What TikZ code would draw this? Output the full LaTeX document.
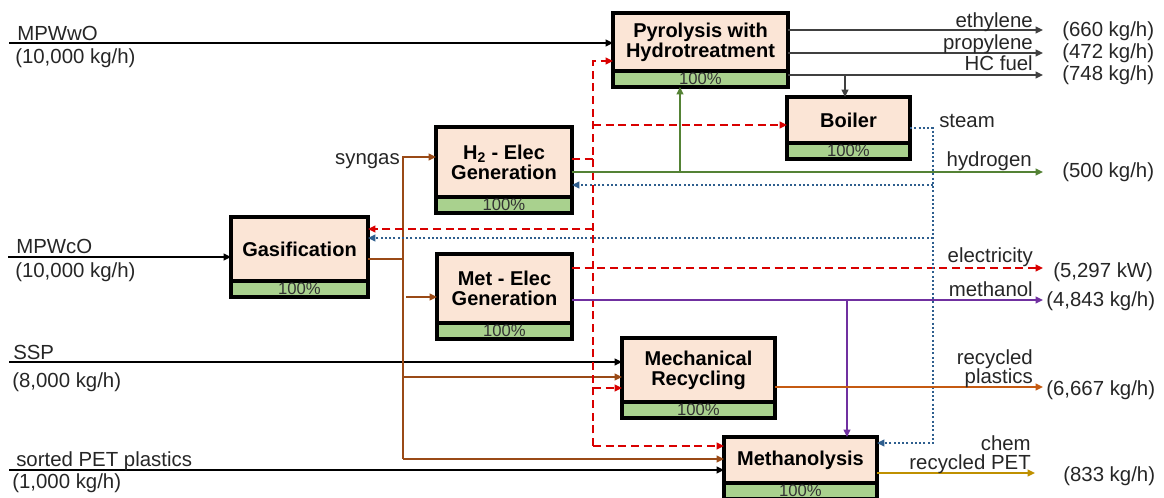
\documentclass[tikz,border=0pt]{standalone}
\usepackage{fontspec}
\setmainfont{Liberation Sans}
\usetikzlibrary{positioning, arrows.meta, calc}

\definecolor{procfill}{HTML}{FBE5D6}
\definecolor{bandfill}{HTML}{A9D18E}
\definecolor{syngascol}{HTML}{9A4A16}
\definecolor{eleccol}{HTML}{D90000}
\definecolor{hydrocol}{HTML}{548235}
\definecolor{steamcol}{HTML}{2E5E8E}
\definecolor{methcol}{HTML}{7030A0}
\definecolor{plastcol}{HTML}{C55A11}
\definecolor{petcol}{HTML}{BF9000}
\definecolor{prodcol}{HTML}{404040}
\definecolor{labelcol}{HTML}{262626}

\begin{document}
\begin{tikzpicture}[
    x=0.75pt, y=-0.75pt,
    >={Triangle[length=5.5pt,width=5pt]},
    every node/.style={font=\fontsize{15.3}{14.5}\selectfont, text=labelcol, inner sep=0pt},
    proc/.style={
        draw, line width=2.4pt, fill=procfill, outer sep=0pt,
        align=center, text=black, font=\fontsize{15}{15}\selectfont\bfseries
    },
    band/.style={
        draw, line width=2.4pt, fill=bandfill, outer sep=0pt,
        minimum height=12pt, text=black!80, font=\fontsize{12.5}{12}\selectfont
    },
    feed/.style={->, line width=1.6pt, black},
    product/.style={->, line width=1.6pt, prodcol},
    syngas/.style={line width=1.6pt, syngascol},
    elec/.style={line width=1.6pt, eleccol, dash pattern=on 6pt off 3.5pt},
    steamline/.style={line width=1.7pt, steamcol, dash pattern=on 1.5pt off 1.7pt},
    hydro/.style={line width=1.6pt, hydrocol},
    methline/.style={line width=1.6pt, methcol},
    plastline/.style={->, line width=1.6pt, plastcol},
    petline/.style={->, line width=1.6pt, petcol},
]
\useasboundingbox (0,0) rectangle (1164,498);

% =====================================================================
%  PROCESS UNITS
% =====================================================================
\node[proc, minimum width=131.25pt, minimum height=43.5pt] (pyro) at (700.5,42)
    {Pyrolysis with\\Hydrotreatment};
\node[band, minimum width=131.25pt, below=0pt of pyro] (pyrob) {100\%};

\node[proc, minimum width=92.25pt, minimum height=34.5pt] (boiler) at (848.5,120)
    {Boiler};
\node[band, minimum width=92.25pt, below=0pt of boiler] (boilerb) {100\%};

\node[proc, minimum width=102pt, minimum height=52.5pt] (htwo) at (504,162)
    {H\textsubscript{2} - Elec\\Generation};
\node[band, minimum width=102pt, below=0pt of htwo] (htwob) {100\%};

\node[proc, minimum width=102.75pt, minimum height=48pt] (gas) at (299.5,249)
    {Gasification};
\node[band, minimum width=102.75pt, below=0pt of gas] (gasb) {100\%};

\node[proc, minimum width=101.25pt, minimum height=51.75pt] (met) at (504.5,288.5)
    {Met - Elec\\Generation};
\node[band, minimum width=101.25pt, below=0pt of met] (metb) {100\%};

\node[proc, minimum width=114.75pt, minimum height=48pt] (mech) at (698.5,370)
    {Mechanical\\Recycling};
\node[band, minimum width=114.75pt, below=0pt of mech] (mechb) {100\%};

\node[proc, minimum width=114.75pt, minimum height=34.5pt] (mol) at (800.5,460)
    {Methanolysis};
\node[band, minimum width=114.75pt, below=0pt of mol] (molb) {100\%};

% =====================================================================
%  FEEDS
% =====================================================================
\coordinate (mpwwo) at (9,43);
\draw[feed] (mpwwo) -- (pyro.west |- mpwwo);
\node[anchor=base west] (mpwwolab) at (17,41) {MPWwO};
\node[anchor=base west] (mpwworate) at (15,64) {(10,000 kg/h)};

\coordinate (mpwco) at (8,257);
\draw[feed] (mpwco) -- (gas.west |- mpwco);
\node[anchor=base west] (mpwcolab) at (16,254) {MPWcO};
\node[anchor=base west] (mpwcorate) at (15,278) {(10,000 kg/h)};

\coordinate (ssp) at (9,362);
\draw[feed] (ssp) -- (mech.west |- ssp);
\node[anchor=base west] (ssplab) at (13,360) {SSP};
\node[anchor=base west] (ssprate) at (12,388) {(8,000 kg/h)};

\coordinate (pet) at (9,470);
\draw[feed] (pet) -- (mol.west |- pet);
\node[anchor=base west] (petlab) at (16,467) {sorted PET plastics};
\node[anchor=base west] (petrate) at (12,489) {(1,000 kg/h)};

% =====================================================================
%  SYNGAS
% =====================================================================
\coordinate (sgjoin) at (403,259);
\coordinate (sgtop) at (403,157);
\coordinate (sgbot) at (403,459);
\coordinate (sgmet) at (406,297);
\coordinate (sgmech) at (403,377);
\draw[syngas] (gas.east |- sgjoin) -- (sgjoin);
\draw[syngas, ->] (sgbot) -- (sgtop) -- (htwo.west |- sgtop);
\draw[syngas, ->] (sgbot) -- (mol.west |- sgbot);
\draw[syngas, ->] (sgmet) -- (met.west |- sgmet);
\draw[syngas, ->] (sgmech) -- (mech.west |- sgmech);
\node[anchor=base east] (sglab) at (400,165) {syngas};

% =====================================================================
%  ELECTRICITY
% =====================================================================
\coordinate (ehtwo) at (593,159);
\coordinate (etop) at (593,61);
\coordinate (ebot) at (593,446);
\coordinate (eboiler) at (593,125);
\coordinate (egas) at (593,229);
\coordinate (emech) at (593,388);
\coordinate (elecend) at (1043,268);
\draw[elec] (htwo.east |- ehtwo) -- (ehtwo);
\draw[elec, ->] (ebot) -- (etop) -- (pyro.west |- etop);
\draw[elec, ->] (ebot) -- (mol.west |- ebot);
\draw[elec, ->] (eboiler) -- (boiler.west |- eboiler);
\draw[elec, ->] (egas) -- (gas.east |- egas);
\draw[elec, ->] (emech) -- (mech.west |- emech);
\draw[elec, ->] (met.east |- elecend) -- (elecend);
\node[anchor=base east] (eleclab) at (1033,263) {electricity};
\node[anchor=base west] (elecrate) at (1053,278) {(5,297 kW)};

% =====================================================================
%  STEAM
% =====================================================================
\coordinate (stcorner) at (933,128);
\coordinate (sthtwo) at (933,185);
\coordinate (stgas) at (933,238);
\coordinate (stmol) at (933,443);
\draw[steamline, ->] (boiler.east |- stcorner) -- (stcorner) -- (stmol) -- (mol.east |- stmol);
\draw[steamline, ->] (sthtwo) -- (htwo.east |- sthtwo);
\draw[steamline, ->] (stgas) -- (gas.east |- stgas);
\node[anchor=base west] (steamlab) at (939,128) {steam};

% =====================================================================
%  HYDROGEN
% =====================================================================
\coordinate (hydroend) at (1043,172);
\coordinate (hydrotap) at (680,172);
\draw[hydro, ->] (htwo.east |- hydroend) -- (hydroend);
\draw[hydro, ->] (hydrotap) -- (pyrob.south -| hydrotap);
\node[anchor=base east] (hydrolab) at (1032,167) {hydrogen};
\node[anchor=base west] (hydrorate) at (1062,178) {(500 kg/h)};

% =====================================================================
%  PYROLYSIS PRODUCTS
% =====================================================================
\coordinate (ethend) at (1043,30);
\coordinate (propend) at (1043,53);
\coordinate (hcend) at (1043,75);
\coordinate (hctap) at (845,75);
\draw[product] (pyro.east |- ethend) -- (ethend);
\draw[product] (pyro.east |- propend) -- (propend);
\draw[product] (pyrob.east |- hcend) -- (hcend);
\draw[product] (hctap) -- (boiler.north -| hctap);
\node[anchor=base east] (ethlab) at (1033,28) {ethylene};
\node[anchor=base east] (proplab) at (1033,50) {propylene};
\node[anchor=base east] (hclab) at (1033,71) {HC fuel};
\node[anchor=base west] (ethrate) at (1062,37) {(660 kg/h)};
\node[anchor=base west] (proprate) at (1062,59) {(472 kg/h)};
\node[anchor=base west] (hcrate) at (1062,81) {(748 kg/h)};

% =====================================================================
%  METHANOL, RECYCLED PLASTICS, PET
% =====================================================================
\coordinate (methend) at (1043,300);
\coordinate (methtap) at (847,300);
\draw[methline, ->] (met.east |- methend) -- (methend);
\draw[methline, ->] (methtap) -- (mol.north -| methtap);
\node[anchor=base east] (methlab) at (1033,297) {methanol};
\node[anchor=base west] (methrate) at (1046,307) {(4,843 kg/h)};

\coordinate (plastend) at (1043,387);
\draw[plastline] (mech.east |- plastend) -- (plastend);
\node[anchor=base east, align=right] (plastlab) at (1033,384) {recycled\\plastics};
\node[anchor=base west] (plastrate) at (1046,396) {(6,667 kg/h)};

\coordinate (petend) at (1035,473);
\draw[petline] (mol.east |- petend) -- (petend);
\node[anchor=base east, align=right] (petprodlab) at (1031,470) {chem\\recycled PET};
\node[anchor=base west] (petprodrate) at (1063,482) {(833 kg/h)};

\end{tikzpicture}
\end{document}
